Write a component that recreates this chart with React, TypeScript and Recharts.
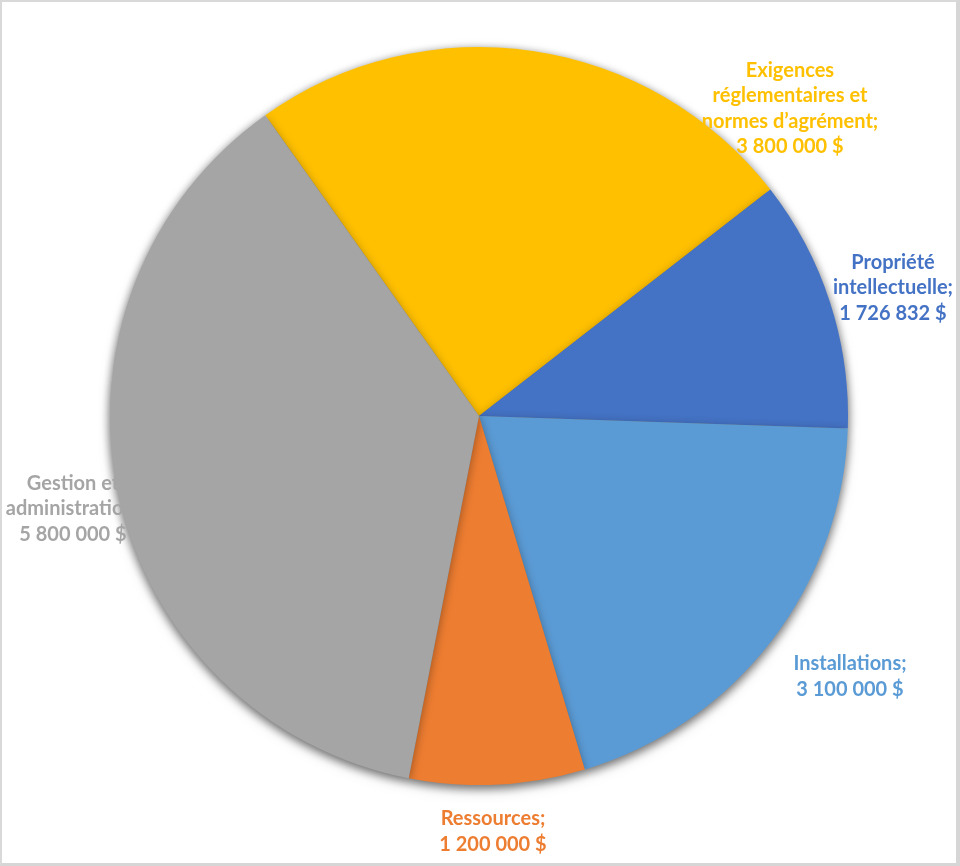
import React from "react";
import { PieChart, Pie, Cell } from "recharts";

// catégories et montants du budget
const categories = [
  "Exigences réglementaires et normes d’agrément",
  "Propriété intellectuelle",
  "Installations",
  "Ressources",
  "Gestion et administration",
];
const amounts = [3800000, 1726832, 3100000, 1200000, 5800000];
const colors = ["#FFC000", "#4472C4", "#5B9BD5", "#ED7D31", "#A5A5A5"];

// lignes des étiquettes telles qu'elles sont coupées dans l'original
const labelLines = [
  ["Exigences", "réglementaires et", "normes d’agrément;", "3 800 000 $"],
  ["Propriété", "intellectuelle;", "1 726 832 $"],
  ["Installations;", "3 100 000 $"],
  ["Ressources;", "1 200 000 $"],
  ["Gestion et", "administration;", "5 800 000 $"],
];
// position du centre de chaque étiquette, par rapport au centre du camembert
const labelOffsets = [
  { dx: 311, dy: -309 },
  { dx: 414, dy: -130 },
  { dx: 371, dy: 259 },
  { dx: 14, dy: 414 },
  { dx: -406, dy: 91 },
];

const data = categories.map((name, i) => ({ name, value: amounts[i] }));

const W = 960;
const H = 866;
const CX = 479;
const CY = 416;
const R = 369;
const LINE = 25.5;

// 125.4° = départ de la première part (Excel la fait tourner)
const START = 125.4;

function renderLabel(props: any) {
  const { index, cx, cy } = props;
  const lines = labelLines[index];
  const off = labelOffsets[index];
  const x = cx + off.dx;
  const top = cy + off.dy - ((lines.length - 1) * LINE) / 2;
  return (
    <text
      key={`lbl-${index}`}
      x={x}
      y={top}
      textAnchor="middle"
      dominantBaseline="central"
      fill={colors[index]}
      fontFamily="Lato, 'Open Sans', sans-serif"
      fontWeight={700}
      fontSize={20}
    >
      {lines.map((l, i) => (
        <tspan key={i} x={x} dy={i === 0 ? 0 : LINE}>
          {l}
        </tspan>
      ))}
    </text>
  );
}

export default function App() {
  return (
    <div
      style={{
        position: "absolute",
        left: 0,
        top: 0,
        width: W,
        height: H,
        background: "#fff",
        boxSizing: "border-box",
        borderTop: "2px solid #d9d9d9",
        borderLeft: "2px solid #d9d9d9",
        borderRight: "4px solid #d6d6d6",
        borderBottom: "3px solid #d6d6d6",
        overflow: "hidden",
      }}
    >
      <style>{`.pie-main { filter: drop-shadow(0px 3px 5px rgba(0,0,0,0.35)); }`}</style>
      <div style={{ position: "absolute", left: -2, top: -2 }}>
        <PieChart width={W} height={H} margin={{ top: 0, right: 0, bottom: 0, left: 0 }}>
          {/* étiquettes d'abord : le camembert les recouvre, comme dans l'original */}
          <Pie
            data={data}
            dataKey="value"
            nameKey="name"
            cx={CX}
            cy={CY}
            outerRadius={R}
            startAngle={START}
            endAngle={START - 360}
            fill="none"
            stroke="none"
            label={renderLabel}
            labelLine={false}
            isAnimationActive={false}
          >
            {data.map((d, i) => (
              <Cell key={`g-${i}`} fill="none" stroke="none" />
            ))}
          </Pie>
          <Pie
            className="pie-main"
            data={data}
            dataKey="value"
            nameKey="name"
            cx={CX}
            cy={CY}
            outerRadius={R}
            startAngle={START}
            endAngle={START - 360}
            stroke="none"
            isAnimationActive={false}
          >
            {data.map((d, i) => (
              <Cell key={`c-${i}`} fill={colors[i]} />
            ))}
          </Pie>
        </PieChart>
      </div>
    </div>
  );
}
